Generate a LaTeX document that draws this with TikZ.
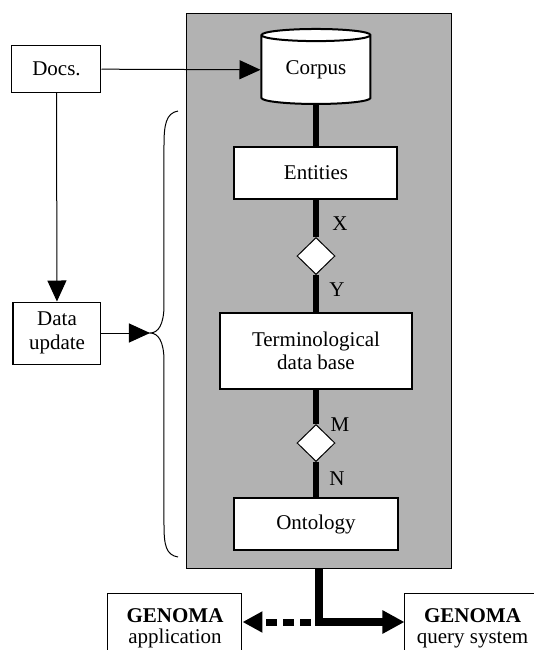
\documentclass[tikz,border=0pt]{standalone}
\usepackage{fontspec}
\setmainfont{Liberation Serif}
\usetikzlibrary{shapes.geometric,arrows.meta}
\begin{document}
\begin{tikzpicture}[x=0.5pt,y=-0.5pt,font=\fontsize{10.5}{11.7}\selectfont]
	\tikzstyle{fine}=[line width=0.5pt]
	\tikzstyle{heavy}=[line width=1pt]
	\tikzstyle{box}=[rectangle, draw, fill=white, align=center, inner sep=0pt]
	\tikzstyle{rel}=[diamond, draw, fill=white, fine, inner sep=0pt, minimum width=19pt, minimum height=18.5pt]
	\tikzstyle{db}=[cylinder, shape border rotate=90, aspect=0.2, draw, heavy, fill=white, inner sep=0pt, minimum width=54.5pt, minimum height=37.5pt]
	\tikzstyle{link}=[line width=2.75pt]
	\tikzstyle{arr}=[fine, -{Triangle[length=10.5pt,width=9.5pt]}]
	\tikzstyle{outarr}=[line width=4pt, -{Triangle[length=11pt,width=11pt]}]
	\tikzstyle{app}=[box, fine, minimum width=67pt, minimum height=35pt, font=\fontsize{10.5}{10.5}\selectfont]

	\useasboundingbox (0,0) rectangle (534,650);

	% core of the system
	\node[rectangle, draw, fine, fill=black!30, minimum width=132.5pt, minimum height=277.5pt] (core) at (319.5,290.5) {};

	\node[db] (corpus) at (316,70) {Corpus};
	\node[box, heavy, minimum width=81.5pt, minimum height=26pt] (ent) at (316,173) {Entities};
	\node[rel] (d1) at (316,256) {};
	\node[box, heavy, minimum width=96pt, minimum height=38pt] (term) at (316,351) {Terminological\\data base};
	\node[rel] (d2) at (316,443) {};
	\node[box, heavy, minimum width=82pt, minimum height=26pt] (onto) at (316,524) {Ontology};

	\node (lx) at (340,224) {X};
	\node (ly) at (337,290) {Y};
	\node (lm) at (340,425) {M};
	\node (ln) at (337,479) {N};

	\foreach \from/\to in {corpus/ent,ent/d1,d1/term,term/d2,d2/onto}
		\draw[link] (\from) -- (\to);

	% inputs
	\node[box, fine, minimum width=44.5pt, minimum height=23.5pt] (docs) at (56.5,69) {Docs.};
	\node[box, fine, minimum width=44pt, minimum height=31pt] (upd) at (57,333) {Data\\update};
	\coordinate (bt) at (150,333);

	\draw[fine] (178,111) .. controls (166,113) and (164,125) .. (164,145) -- (164,305)
		.. controls (164,325) and (158,333) .. (bt)
		.. controls (158,333) and (164,341) .. (164,361) -- (164,525)
		.. controls (164,545) and (166,555) .. (178,557);

	\draw[arr] (docs) -- (corpus);
	\draw[arr] (docs) -- (upd);
	\draw[arr] (upd) -- (bt);

	% outputs
	\node[app] (gapp) at (175,628) {\textbf{GENOMA}\\application};
	\node[app, minimum width=67.5pt] (query) at (472.5,628) {\textbf{GENOMA}\\query system};
	\coordinate (split) at (319.5,622);

	\draw[outarr] (core.south) |- (query.west |- split);
	\draw[line width=3.5pt, dash pattern=on 5.5pt off 3pt, dash phase=4.25pt, -{Triangle[length=10pt,width=10pt]}] (split) -- (gapp.east |- split);
\end{tikzpicture}
\end{document}
